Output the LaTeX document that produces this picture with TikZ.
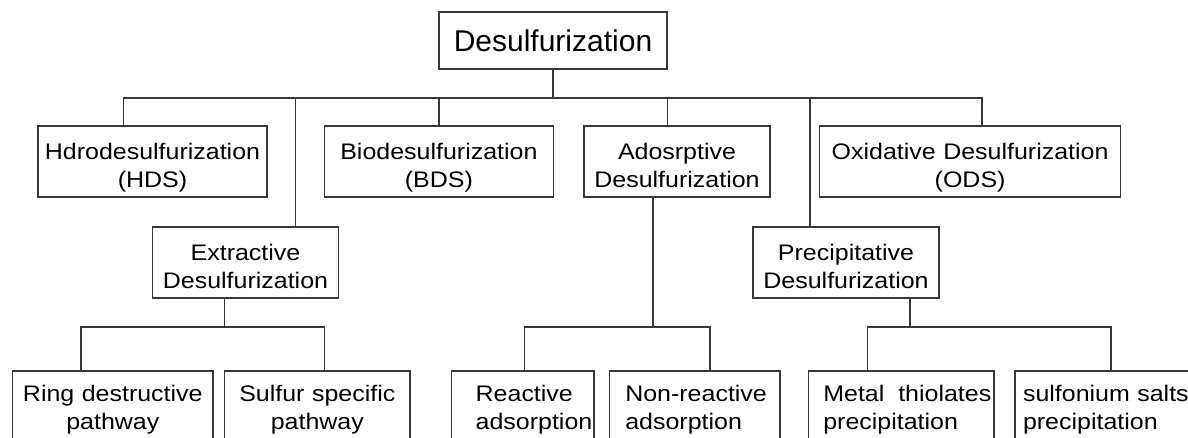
\documentclass[tikz,border=0pt]{standalone}
\usepackage{fontspec}
\setmainfont{Liberation Sans}[FakeStretch=1.11]
\newfontfamily\topfont{Liberation Sans}
\begin{document}
\begin{tikzpicture}[x=1pt,y=-1pt,
  ln/.style={line width=1.5pt, draw=black!78, line join=miter},
  bx/.style={draw=black!78, line width=1.5pt, inner sep=0pt, text=black,
    font=\fontsize{22.5}{28}\selectfont},
  lvA/.style={bx, text height=33.3pt, text depth=37.7pt},
  lvB/.style={bx, text height=33.7pt, text depth=37.3pt},
  lvC/.style={bx, text height=30.7pt, text depth=58.3pt}]
\useasboundingbox (0,0) rectangle (1188,438);
\clip (0,0) rectangle (1188,438);

% level 0
\node[bx, font=\topfont\fontsize{30}{36}\selectfont, text width=228pt, align=center,
      text height=39.7pt, text depth=17.3pt] (top) at (553,40.5) {Desulfurization};

% level 1
\node[lvA, text width=229pt, align=center] (hds) at (152.5,161.5) {Hdrodesulfurization\\(HDS)};
\node[lvA, text width=228.8pt, align=center] (bds) at (438.9,161.5) {Biodesulfurization\\(BDS)};
\node[lvA, text width=186pt, align=center] (ads) at (677,161.5) {Adosrptive\\Desulfurization};
\node[lvA, text width=301.2pt, align=center] (ods) at (970.1,161.5) {Oxidative Desulfurization\\(ODS)};

% level 2
\node[lvB, text width=186.4pt, align=center] (eds) at (245.5,262.5) {Extractive\\Desulfurization};
\node[lvB, text width=186pt, align=center] (pds) at (846,262.5) {Precipitative\\Desulfurization};

% level 3
\node[lvC, text width=200.4pt, align=center] (ring) at (112.8,415.5) {Ring destructive\\pathway};
\node[lvC, text width=185.4pt, align=center] (sulf) at (317.3,415.5) {Sulfur specific\\pathway};
\node[lvC, text width=142.3pt, align=left] (react) at (522.85,415.5)
  {\hspace*{24pt}Reactive\\\hspace*{24pt}adsorption};
\node[lvC, text width=170.7pt, align=left] (nonr) at (694.65,415.5)
  {\hspace*{16pt}Non-reactive\\\hspace*{16pt}adsorption};
\node[lvC, text width=185.7pt, align=left] (metal) at (901.15,415.5)
  {\hspace*{15pt}\hbox to 168pt{Metal\hfill thiolates}\\\hspace*{15pt}precipitation};
\node[lvC, text width=200pt, align=left] (sulfo) at (1115,415.5)
  {\hspace*{8pt}sulfonium salts\\\hspace*{8pt}precipitation};

% connectors level 0 -> 1
\coordinate (busL) at (123.6,98);
\coordinate (busR) at (982,98);
\coordinate (xe) at (295.7,98);
\coordinate (xb) at (439,98);
\coordinate (xa) at (667.6,98);
\coordinate (xp) at (810,98);
\draw[ln] (top.south) -- (top.south |- busL);
\draw[ln] (busL |- hds.north) -- (busL) -- (busR) -- (busR |- ods.north);
\draw[ln] (xe) -- (xe |- eds.north);
\draw[ln] (xb) -- (xb |- bds.north);
\draw[ln] (xa) -- (xa |- ads.north);
\draw[ln] (xp) -- (xp |- pds.north);

% extractive
\coordinate (eM) at (224.6,327);
\coordinate (eL) at (81,327);
\coordinate (eR) at (324.5,327);
\draw[ln] (eM |- eds.south) -- (eM);
\draw[ln] (eL |- ring.north) -- (eL) -- (eR) -- (eR |- sulf.north);

% adsorptive
\coordinate (aM) at (653,327);
\coordinate (aL) at (524.3,327);
\coordinate (aR) at (710,327);
\draw[ln] (aM |- ads.south) -- (aM);
\draw[ln] (aL |- react.north) -- (aL) -- (aR) -- (aR |- nonr.north);

% precipitative
\coordinate (pM) at (910,327);
\coordinate (pL) at (867.7,327);
\coordinate (pR) at (1111,327);
\draw[ln] (pM |- pds.south) -- (pM);
\draw[ln] (pL |- metal.north) -- (pL) -- (pR) -- (pR |- sulfo.north);
\end{tikzpicture}
\end{document}
